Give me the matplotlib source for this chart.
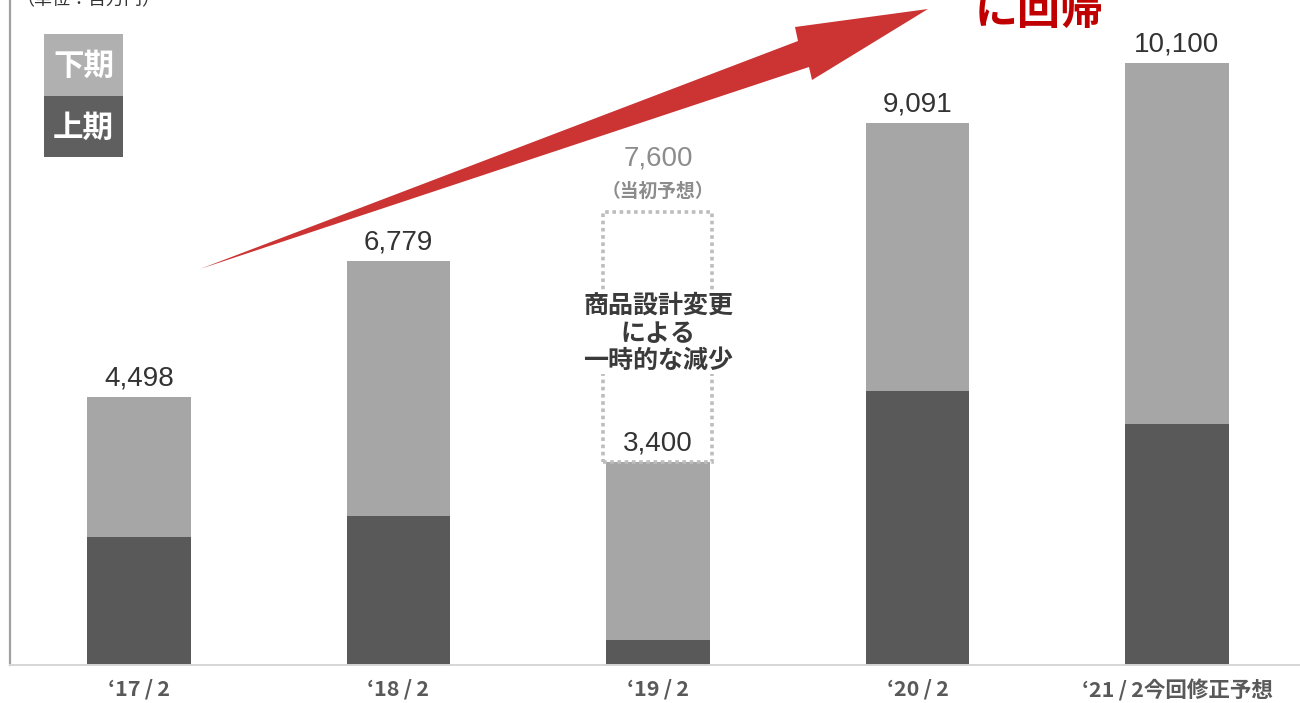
import matplotlib
matplotlib.use("Agg")
import matplotlib.pyplot as plt
from matplotlib.patches import Polygon, Rectangle

plt.rcParams['font.family'] = ['Liberation Sans', 'Noto Sans CJK JP', 'DejaVu Sans']

# Sales by fiscal year (million yen): first half / second half
periods = ["\u201817\u2009/\u20092", "\u201818\u2009/\u20092", "\u201819\u2009/\u20092",
           "\u201820\u2009/\u20092", "\u201821\u2009/\u20092今回修正予想"]
totals = [4498, 6779, 3400, 9091, 10100]
first_half = [2150, 2500, 420, 4600, 4050]
second_half = [t - f for t, f in zip(totals, first_half)]
initial_forecast_19 = 7600
forecast_index = 2

DARK = "#595959"
LIGHT = "#a6a6a6"
W, H = 1300, 703

fig = plt.figure(figsize=(W / 100, H / 100), dpi=100)
ax = fig.add_axes([10 / W, (H - 665) / H, 1 - 10 / W, 665 / H])

x = list(range(len(periods)))
ax.bar(x, first_half, width=0.4, color=DARK, zorder=2)
ax.bar(x, second_half, bottom=first_half, width=0.4, color=LIGHT, zorder=2)

ax.set_xlim(-0.497, 4.474)
ax.set_ylim(0, 11157)
ax.set_yticks([])
ax.set_xticks(x)
ax.set_xticklabels(periods, fontsize=15.5, fontweight='bold', color="#595959",
                   family=['Noto Sans CJK JP', 'DejaVu Sans'])
ax.tick_params(axis='x', length=0, pad=10)
for side in ("top", "right"):
    ax.spines[side].set_visible(False)
ax.spines['left'].set_color("#a0a0a0")
ax.spines['left'].set_linewidth(1.6)
ax.spines['bottom'].set_color("#d6d6d6")
ax.spines['bottom'].set_linewidth(1.4)

# Value labels
for i, t in enumerate(totals):
    ax.annotate(f"{t:,}", (i, t), xytext=(0, 4), textcoords="offset points",
                ha='center', va='bottom', fontsize=20, color="#333333")

# Initial forecast outline for '19/2
ax.add_patch(Rectangle((forecast_index - 0.21, totals[forecast_index]), 0.42,
                       initial_forecast_19 - totals[forecast_index], fill=False,
                       edgecolor="#bdbdbd", linewidth=2.6, linestyle=(0, (1, 1)), zorder=3))
ax.annotate(f"{initial_forecast_19:,}", (forecast_index, initial_forecast_19),
            xytext=(0, 29), textcoords="offset points", ha='center', va='bottom',
            fontsize=20, color="#8c8c8c")
ax.annotate("（当初予想）", (forecast_index, initial_forecast_19),
            xytext=(0, 8), textcoords="offset points", ha='center', va='bottom',
            fontsize=13.5, fontweight='bold', color="#8c8c8c",
            family=['Noto Sans CJK JP'])
ax.text(forecast_index, 5560, "商品設計変更\nによる\n一時的な減少", ha='center', va='center',
        fontsize=18, fontweight='bold', color="#3a3a3a", linespacing=1.2,
        family=['Noto Sans CJK JP'], zorder=4,
        bbox=dict(facecolor='white', edgecolor='none', pad=0.3))

# Legend boxes
def px(xp, yp):
    return xp / W, 1 - yp / H

for (label, color, y0, y1) in [("下期", "#b0b0b0", 34, 96), ("上期", "#5f5f5f", 96, 157)]:
    fig.patches.append(Rectangle(px(44, y1), 79 / W, (y1 - y0) / H,
                                 transform=fig.transFigure, facecolor=color,
                                 edgecolor='none', zorder=5))
    fig.text(*px(83.5, (y0 + y1) / 2 + 1), label, ha='center', va='center', fontsize=22,
             fontweight='bold', color='white', family=['Noto Sans CJK JP'], zorder=6)

# Growth arrow
arrow_px = [(200, 269), (798, 41), (795, 27), (928, 9), (812, 80), (809, 67)]
fig.patches.append(Polygon([px(a, b) for a, b in arrow_px], closed=True,
                           transform=fig.transFigure, facecolor="#cc3333",
                           edgecolor='none', zorder=5))

# Partially visible header texts
fig.text(*px(16, 5), "（単位：百万円）", ha='left', va='baseline', fontsize=13,
         color="#333333", family=['Noto Sans CJK JP'])
fig.text(*px(1039, 24), "に回帰", ha='center', va='baseline', fontsize=31,
         fontweight='bold', color="#c00000", family=['Noto Sans CJK JP'])

fig.savefig("out.png", dpi=100)
